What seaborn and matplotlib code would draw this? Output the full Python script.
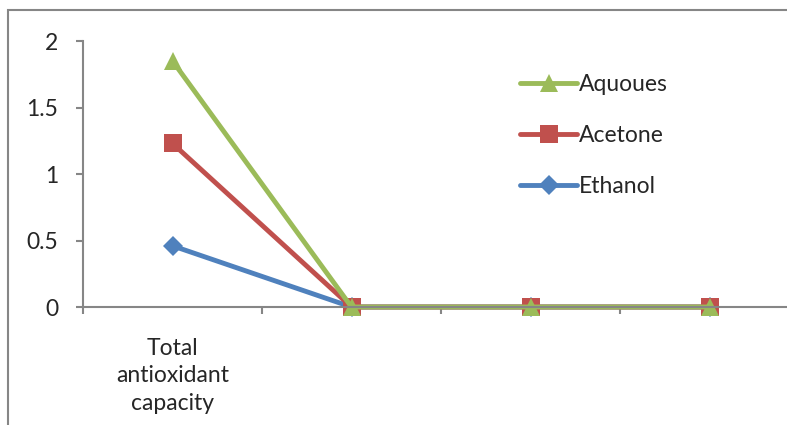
import matplotlib
matplotlib.use("Agg")
import matplotlib.pyplot as plt
import matplotlib.patches as patches
from matplotlib.lines import Line2D
from matplotlib.ticker import FuncFormatter
import seaborn as sns

# Data
categories = ["Total\nantioxidant\ncapacity", "", "", ""]
ethanol = [0.46, 0, 0, 0]
acetone = [1.23, 0, 0, 0]
aquoues = [1.85, 0, 0, 0]

series = [
    ("Ethanol", ethanol, "#4F81BD", "D", 10),
    ("Acetone", acetone, "#C0504D", "s", 13),
    ("Aquoues", aquoues, "#9BBB59", "^", 13),
]

sns.set_style("white")
plt.rcParams["font.family"] = ["Lato", "DejaVu Sans"]
fs = 16.5

fig = plt.figure(figsize=(7.87, 4.25), dpi=100)
ax = fig.add_axes([83 / 787, 1 - 307 / 425, (799 - 83) / 787, (307 - 41) / 425])

x = list(range(len(categories)))
for name, vals, color, marker, ms in series:
    sns.lineplot(x=x, y=vals, ax=ax, color=color, marker=marker, markersize=ms,
                 markeredgewidth=0, linewidth=3.5, clip_on=False, legend=False)

ax.set_xlim(-0.5, len(categories) - 0.5)
ax.set_ylim(0, 2)
ax.set_yticks([0, 0.5, 1, 1.5, 2])
ax.yaxis.set_major_formatter(FuncFormatter(lambda v, p: "%g" % v))
ax.set_xticks(x)
ax.set_xticklabels(categories, linespacing=1.4)
ax.set_xticks([i - 0.5 for i in x], minor=True)

gray = "#868686"
for s in ["top", "right"]:
    ax.spines[s].set_visible(False)
for s in ["left", "bottom"]:
    ax.spines[s].set_color(gray)
    ax.spines[s].set_linewidth(1.5)

ax.tick_params(axis="y", which="major", direction="out", length=5, width=1.5,
               color=gray, pad=13, labelsize=fs, left=True)
ax.tick_params(axis="x", which="major", length=0, pad=22, labelsize=fs)
ax.tick_params(axis="x", which="minor", direction="out", length=5, width=1.5,
               color=gray, bottom=True)

handles = [Line2D([], [], color=c, marker=m, markersize=ms, markeredgewidth=0,
                  linewidth=3.5, label=n) for n, v, c, m, ms in series][::-1]
fig.legend(handles=handles, loc="upper left", bbox_to_anchor=(511 / 787, 1 - 65 / 425),
           frameon=False, fontsize=fs, handlelength=2.5, handletextpad=0.05,
           labelspacing=1.3, borderaxespad=0)

# outer chart border (cut off on the right and bottom)
border = patches.Rectangle((8 / 787, -0.1), 1.2, 1 - 10 / 425 + 0.1,
                           transform=fig.transFigure, fill=False,
                           edgecolor=gray, linewidth=1.5, clip_on=False)
fig.patches.append(border)

fig.savefig("out.png", dpi=100)
